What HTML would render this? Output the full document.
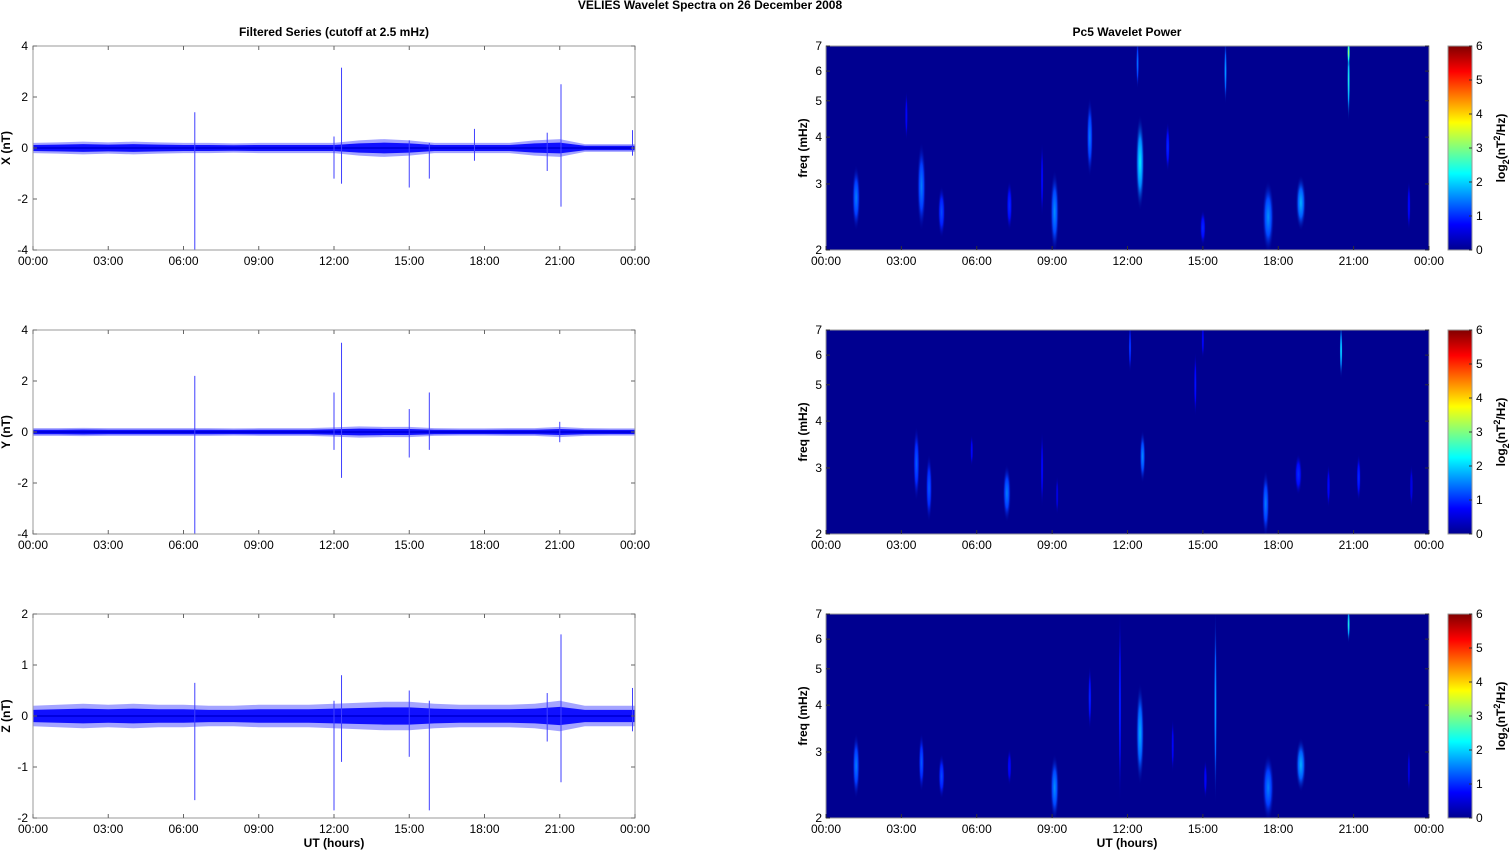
<!DOCTYPE html>
<html><head><meta charset="utf-8">
<style>
body{margin:0;background:#fff;}
svg text{font-family:"Liberation Sans",Arial,sans-serif;font-size:12px;fill:#000;}
.b{font-weight:bold;}
</style></head>
<body>
<svg id="fig" width="1511" height="851" viewBox="0 0 1511 851" xmlns="http://www.w3.org/2000/svg">
<defs>
<linearGradient id="jetbar" x1="0" y1="1" x2="0" y2="0">
<stop offset="0" stop-color="#00008f"/><stop offset="0.125" stop-color="#0000ff"/>
<stop offset="0.375" stop-color="#00ffff"/><stop offset="0.625" stop-color="#ffff00"/>
<stop offset="0.875" stop-color="#ff0000"/><stop offset="1" stop-color="#800000"/>
</linearGradient>
</defs>
<text class="b" x="710" y="9" text-anchor="middle">VELIES Wavelet Spectra on 26 December  2008</text>
<text class="b" x="334" y="36" text-anchor="middle">Filtered Series (cutoff at 2.5 mHz)</text>
<text class="b" x="1127" y="36" text-anchor="middle">Pc5 Wavelet Power</text>
<text class="b" x="334" y="847" text-anchor="middle">UT (hours)</text>
<text class="b" x="1127" y="847" text-anchor="middle">UT (hours)</text>
</svg>
<script>
// ---- data ----
const hourTicks = ["00:00","03:00","06:00","09:00","12:00","15:00","18:00","21:00","00:00"];
const compNames = ["X","Y","Z"];
const yRanges = [[-4,4],[-4,4],[-2,2]];
const yTickStep = [2,2,1];
// noise envelope amplitude (nT) per hour 0..24
const envX = [0.2,0.22,0.25,0.22,0.25,0.22,0.2,0.2,0.18,0.2,0.2,0.2,0.2,0.3,0.35,0.3,0.2,0.2,0.2,0.2,0.3,0.35,0.15,0.15,0.15];
const envY = [0.15,0.15,0.16,0.15,0.15,0.15,0.15,0.15,0.14,0.15,0.15,0.15,0.18,0.22,0.2,0.2,0.15,0.14,0.14,0.15,0.15,0.2,0.15,0.14,0.14];
const envZ = [0.2,0.22,0.24,0.22,0.24,0.22,0.22,0.2,0.2,0.22,0.22,0.22,0.24,0.26,0.28,0.28,0.24,0.22,0.22,0.22,0.24,0.3,0.2,0.2,0.2];
// spikes [hour, min, max]
const spikesX = [[6.45,-4,1.4],[12.0,-1.2,0.45],[12.3,-1.4,3.15],[15.0,-1.55,0.3],[15.8,-1.2,0.2],[17.6,-0.5,0.75],[20.5,-0.9,0.6],[21.05,-2.3,2.5],[23.9,-0.3,0.7]];
const spikesY = [[6.45,-4,2.2],[12.0,-0.7,1.55],[12.3,-1.8,3.5],[15.0,-1.0,0.9],[15.8,-0.7,1.55],[21.0,-0.4,0.4]];
const spikesZ = [[6.45,-1.65,0.65],[12.0,-1.85,0.3],[12.3,-0.9,0.8],[15.0,-0.8,0.5],[15.8,-1.85,0.3],[20.5,-0.5,0.45],[21.05,-1.3,1.6],[23.9,-0.3,0.55]];
const freqTicks = [2,3,4,5,6,7];
const cbTicks = [0,1,2,3,4,5,6];
// wavelet blobs [hour, fLow, fHigh, widthHours, power]
const blobsX = [[1.2,2.3,3.3,0.28,1.5],[3.8,2.3,3.8,0.3,1.5],[4.6,2.2,2.9,0.25,1.2],[7.3,2.3,3.0,0.2,1.0],[9.1,2.0,3.2,0.3,1.6],[10.5,3.2,5.0,0.22,1.5],[12.5,2.6,4.5,0.3,2.2],[13.6,3.3,4.3,0.15,1.0],[15.0,2.1,2.5,0.2,1.0],[17.6,2.0,3.0,0.4,1.6],[18.9,2.3,3.1,0.35,1.8],[23.2,2.3,3.0,0.12,0.8],[12.4,5.5,7.2,0.08,1.5],[15.9,5.0,7.2,0.08,1.8],[20.8,4.5,7.2,0.08,2.5],[20.8,6.3,7.2,0.08,3.5],[3.2,4.0,5.2,0.08,0.8],[8.6,2.5,3.8,0.1,0.8]];
const blobsY = [[3.6,2.5,3.8,0.22,1.3],[4.1,2.2,3.2,0.22,1.3],[5.8,3.1,3.6,0.1,0.8],[7.2,2.2,3.0,0.28,1.5],[8.6,2.4,3.7,0.1,0.8],[9.2,2.3,2.8,0.1,0.6],[12.6,2.8,3.7,0.2,1.6],[12.1,5.5,7.2,0.08,1.2],[14.7,4.2,6.0,0.08,0.9],[15.0,6.0,7.2,0.08,0.8],[17.5,2.0,2.9,0.25,1.5],[18.8,2.6,3.2,0.25,1.0],[20.0,2.4,3.0,0.12,0.8],[20.5,5.3,7.2,0.08,2.3],[21.2,2.5,3.2,0.15,1.0],[23.3,2.4,3.0,0.12,0.6]];
const blobsZ = [[1.2,2.3,3.3,0.25,1.5],[3.8,2.4,3.3,0.2,1.3],[4.6,2.3,2.9,0.22,1.2],[7.3,2.5,3.0,0.15,0.8],[9.1,2.0,2.9,0.3,1.6],[10.5,3.5,5.0,0.12,1.0],[11.7,2.2,7.2,0.07,1.0],[12.5,2.5,4.5,0.28,1.8],[13.8,2.7,3.6,0.1,0.8],[15.5,2.2,7.2,0.08,1.8],[17.6,2.0,2.9,0.4,1.5],[18.9,2.4,3.2,0.35,1.8],[20.8,6.0,7.2,0.08,2.5],[23.2,2.4,3.0,0.1,0.6],[15.1,2.3,2.8,0.12,0.8]];

const envs=[envX,envY,envZ], spikes=[spikesX,spikesY,spikesZ], blobs=[blobsX,blobsY,blobsZ];
const NS="http://www.w3.org/2000/svg";
const svg=document.getElementById('fig');
const defs=svg.querySelector('defs');
function mk(tag,attrs,parent){const e=document.createElementNS(NS,tag);for(const k in attrs)e.setAttribute(k,attrs[k]);(parent||svg).appendChild(e);return e;}
function jet(v){const t=Math.max(0,Math.min(1,v/6));
 const c=(x)=>Math.round(255*Math.max(0,Math.min(1,x)));
 const r=c(Math.min(4*t-1.5,-4*t+4.5)),g=c(Math.min(4*t-0.5,-4*t+3.5)),b=c(Math.min(4*t+0.5,-4*t+2.5));
 return `rgb(${r},${g},${b})`;}
const tops=[46,330,614], H=204;
const L0=33,L1=635,R0=826,R1=1429,CB0=1448,CB1=1472;
let gid=0;
for(let p=0;p<3;p++){
 const top=tops[p], bot=top+H;
 const [ymin,ymax]=yRanges[p];
 const xL=h=>L0+(L1-L0)*h/24;
 const yL=v=>bot-(v-ymin)/(ymax-ymin)*H;
 const g=mk('g',{});
 
 
 const env=envs[p];
 [[1,'#9a9aff',0.9],[0.6,'#1010ff',1]].forEach(([k,col,op])=>{
  let pts=[];
  env.forEach((a,i)=>pts.push(xL(i)+','+yL(a*k)));
  for(let i=env.length-1;i>=0;i--)pts.push(xL(i)+','+yL(-env[i]*k));
  const band=mk('polygon',{points:pts.join(' '),fill:col,'fill-opacity':op},g);
  
  
 });
 const mid=mk('line',{x1:L0,x2:L1,y1:yL(0),y2:yL(0),stroke:'#0000e0','stroke-width':2},g);
 
 
 spikes[p].forEach(s=>{
  const l=mk('line',{x1:xL(s[0]),x2:xL(s[0]),y1:yL(s[1]),y2:yL(s[2]),stroke:'#4040ff','stroke-width':1},g);
  
  
 });
 const fr=mk('rect',{x:L0,y:top,width:L1-L0,height:H,fill:'none',stroke:'#999','stroke-width':1},g);
 
 
 for(let v=ymin;v<=ymax;v+=yTickStep[p]){
  mk('line',{x1:L0,x2:L0+4,y1:yL(v),y2:yL(v),stroke:'#666'},g);
  mk('line',{x1:L1,x2:L1-4,y1:yL(v),y2:yL(v),stroke:'#666'},g);
  const t=mk('text',{x:L0-5,y:yL(v)+4,'text-anchor':'end'},g);t.textContent=v;
  
  
 }
 hourTicks.forEach((lab,i)=>{
  const x=xL(i*3);
  mk('line',{x1:x,x2:x,y1:bot,y2:bot-4,stroke:'#666'},g);
  mk('line',{x1:x,x2:x,y1:top,y2:top+4,stroke:'#666'},g);
  const t=mk('text',{x:x,y:bot+15,'text-anchor':'middle'},g);t.textContent=lab;
  
  
 });
 const yt=mk('text',{x:0,y:0,'text-anchor':'middle',class:'b',transform:`translate(10,${top+H/2}) rotate(-90)`},g);
 yt.textContent=compNames[p]+' (nT)';
 
 

 // ---- spectrogram ----
 const xR=h=>R0+(R1-R0)*h/24;
 const yF=f=>bot-Math.log(f/2)/Math.log(3.5)*H;
 const gs=mk('g',{});
 
 
 const cid='clip'+p;
 const cp=mk('clipPath',{id:cid},defs);mk('rect',{x:R0,y:top,width:R1-R0,height:H},cp);
 const bg=mk('rect',{x:R0,y:top,width:R1-R0,height:H,fill:'#000090'},gs);
 
 
 const bl=mk('g',{'clip-path':`url(#${cid})`},gs);
 blobs[p].forEach(b=>{
  const id='bg'+(gid++);
  const rg=mk('radialGradient',{id:id},defs);
  mk('stop',{offset:'0','stop-color':jet(b[4])},rg);
  mk('stop',{offset:'0.5','stop-color':jet(b[4]*0.6+0.2)},rg);
  mk('stop',{offset:'1','stop-color':'#000090','stop-opacity':'0'},rg);
  const y1=yF(b[1]),y2=yF(b[2]);
  const e=mk('ellipse',{cx:xR(b[0]),cy:(y1+y2)/2,rx:Math.max(1.5,0.6*(R1-R0)*b[3]/24),ry:Math.abs(y1-y2)/2+4,fill:`url(#${id})`},bl);
  
  
 });
 mk('rect',{x:R0,y:top,width:R1-R0,height:H,fill:'none',stroke:'#999'},gs);
 freqTicks.forEach(f=>{
  mk('line',{x1:R0,x2:R0+4,y1:yF(f),y2:yF(f),stroke:'#333'},gs);
  mk('line',{x1:R1,x2:R1-4,y1:yF(f),y2:yF(f),stroke:'#333'},gs);
  const t=mk('text',{x:R0-4,y:yF(f)+4,'text-anchor':'end'},gs);t.textContent=f;
  
  
 });
 hourTicks.forEach((lab,i)=>{
  const x=xR(i*3);
  mk('line',{x1:x,x2:x,y1:bot,y2:bot-4,stroke:'#333'},gs);
  const t=mk('text',{x:x,y:bot+15,'text-anchor':'middle'},gs);t.textContent=lab;
  
  
 });
 const ft=mk('text',{x:0,y:0,'text-anchor':'middle',class:'b',transform:`translate(807,${top+H/2}) rotate(-90)`},gs);
 ft.textContent='freq (mHz)';
 
 
 const cb=mk('rect',{x:CB0,y:top,width:CB1-CB0,height:H,fill:'url(#jetbar)',stroke:'#999'},gs);
 
 
 cbTicks.forEach(v=>{
  const y=bot-v/6*H;
  mk('line',{x1:CB1,x2:CB1-3,y1:y,y2:y,stroke:'#333'},gs);
  const t=mk('text',{x:CB1+4,y:y+4},gs);t.textContent=v;
  
  
 });
 const ct=mk('text',{x:0,y:0,'text-anchor':'middle',class:'b',transform:`translate(1505,${top+H/2}) rotate(-90)`},gs);
 ct.innerHTML='log<tspan dy="4" font-size="9">2</tspan><tspan dy="-4">(nT</tspan><tspan dy="-5" font-size="9">2</tspan><tspan dy="5">/Hz)</tspan>';
 
 
}
</script>
</body></html>
